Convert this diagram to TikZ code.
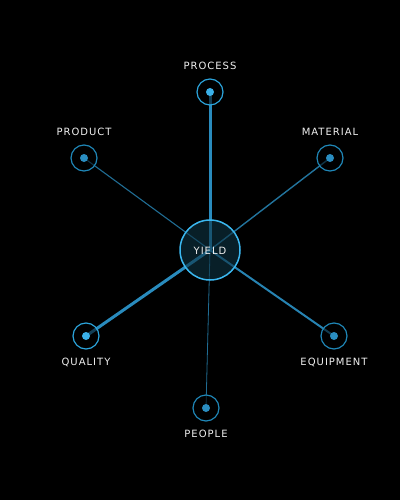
\documentclass[tikz,border=0pt]{standalone}
\usepackage{fontspec}
\newfontfamily\lblfont[LetterSpace=10]{DejaVu Sans}
\begin{document}
\begin{tikzpicture}[x=1pt,y=-1pt,
  lbl/.style={text=white!88!gray, font=\lblfont\fontsize{10}{12}\selectfont, inner sep=0pt},
  link/.style={draw=linkblue, line cap=butt},
  leaf/.style={circle, draw=leafring, line width=1.2pt, fill=black, fill opacity=0.55, draw opacity=1, minimum size=26pt, inner sep=0pt},
  leafhot/.style={leaf, draw=hotring},
  dot/.style={circle, fill=dotblue, minimum size=8pt, inner sep=0pt},
  dothot/.style={dot, fill=hotdot},
  hub/.style={circle, draw=hubring, line width=1.5pt, fill=hubfill, fill opacity=0.6, draw opacity=1, text opacity=1, minimum size=60pt, inner sep=0pt}
]
\definecolor{linkblue}{HTML}{2E9BD2}
\definecolor{leafring}{HTML}{1F86B6}
\definecolor{hotring}{HTML}{2BA3DA}
\definecolor{dotblue}{HTML}{2A8DC0}
\definecolor{hotdot}{HTML}{3AB0E8}
\definecolor{hubring}{HTML}{3BB8F0}
\definecolor{hubfill}{HTML}{0E3444}
\fill[black] (0,0) rectangle (400,500);
\useasboundingbox (0,0) rectangle (400,500);
% coordinates
\coordinate (c) at (210,250);
\coordinate (pPROC) at (210,92);
\coordinate (pPROD) at (84,158);
\coordinate (pMAT) at (330,158);
\coordinate (pQUAL) at (86,336);
\coordinate (pEQ) at (334,336);
\coordinate (pPEO) at (206,408);
% links
\draw[link, line width=3pt, draw opacity=0.9] (c) -- (pPROC);
\draw[link, line width=1.1pt, draw opacity=0.7] (c) -- (pPROD);
\draw[link, line width=1.4pt, draw opacity=0.75] (c) -- (pMAT);
\draw[link, line width=3pt, draw opacity=0.9] (c) -- (pQUAL);
\draw[link, line width=2pt, draw opacity=0.85] (c) -- (pEQ);
\draw[link, line width=0.8pt, draw opacity=0.7] (c) -- (pPEO);
% hub
\node[hub] (hub) at (c) {};
\node[lbl] (hubtxt) at (210,251) {YIELD};
% leaves
\node[leafhot] (nPROC) at (pPROC) {};
\node[dothot] (dPROC) at (pPROC) {};
\node[leaf] (nPROD) at (pPROD) {};
\node[dot] (dPROD) at (pPROD) {};
\node[leaf] (nMAT) at (pMAT) {};
\node[dot] (dMAT) at (pMAT) {};
\node[leafhot] (nQUAL) at (pQUAL) {};
\node[dothot] (dQUAL) at (pQUAL) {};
\node[leaf] (nEQ) at (pEQ) {};
\node[dot] (dEQ) at (pEQ) {};
\node[leaf] (nPEO) at (pPEO) {};
\node[dot] (dPEO) at (pPEO) {};
% labels
\node[lbl] (tPROC) at (210,66) {PROCESS};
\node[lbl] (tPROD) at (84,132) {PRODUCT};
\node[lbl] (tMAT) at (330,132) {MATERIAL};
\node[lbl] (tQUAL) at (86,362) {QUALITY};
\node[lbl] (tEQ) at (334,362) {EQUIPMENT};
\node[lbl] (tPEO) at (206,434) {PEOPLE};
\end{tikzpicture}
\end{document}
